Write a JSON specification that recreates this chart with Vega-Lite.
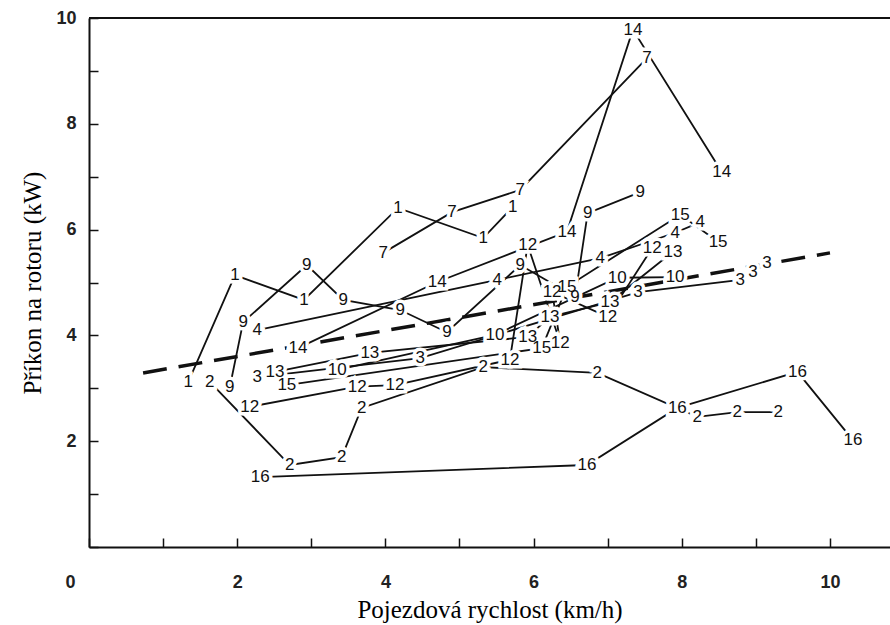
{
  "$schema": "https://vega.github.io/schema/vega-lite/v6.json",
  "width": 801,
  "height": 529,
  "autosize": "none",
  "padding": {"left": 89, "top": 18, "right": 0, "bottom": 78},
  "background": "white",
  "config": {"view": {"stroke": null}},
  "datasets": {
    "pts": [
      {"s":"1","i":1,"x":1.34,"y":3.12},{"s":"1","i":2,"x":1.97,"y":5.14},{"s":"1","i":3,"x":2.90,"y":4.67},{"s":"1","i":4,"x":4.17,"y":6.41},{"s":"1","i":5,"x":5.32,"y":5.84},{"s":"1","i":6,"x":5.72,"y":6.43},
      {"s":"7","i":1,"x":3.97,"y":5.56},{"s":"7","i":2,"x":4.90,"y":6.33},{"s":"7","i":3,"x":5.82,"y":6.75},{"s":"7","i":4,"x":7.53,"y":9.24},
      {"s":"9","i":1,"x":1.90,"y":3.02},{"s":"9","i":2,"x":2.08,"y":4.25},{"s":"9","i":3,"x":2.94,"y":5.33},{"s":"9","i":4,"x":3.43,"y":4.67},{"s":"9","i":5,"x":4.20,"y":4.48},{"s":"9","i":6,"x":4.83,"y":4.06},{"s":"9","i":7,"x":5.82,"y":5.33},{"s":"9","i":8,"x":6.56,"y":4.73},{"s":"9","i":9,"x":6.73,"y":6.31},{"s":"9","i":10,"x":7.44,"y":6.71},
      {"s":"4","i":1,"x":2.27,"y":4.10},{"s":"4","i":2,"x":5.51,"y":5.05},{"s":"4","i":3,"x":6.90,"y":5.46},{"s":"4","i":4,"x":7.91,"y":5.94},{"s":"4","i":5,"x":8.25,"y":6.14},
      {"s":"14","i":1,"x":2.82,"y":3.76},{"s":"14","i":2,"x":4.70,"y":5.01},{"s":"14","i":3,"x":6.45,"y":5.96},{"s":"14","i":4,"x":7.34,"y":9.78},{"s":"14","i":5,"x":8.54,"y":7.09},
      {"s":"12","i":1,"x":2.17,"y":2.65},{"s":"12","i":2,"x":3.62,"y":3.03},{"s":"12","i":3,"x":4.13,"y":3.06},{"s":"12","i":4,"x":5.68,"y":3.54},{"s":"12","i":5,"x":5.92,"y":5.71},{"s":"12","i":6,"x":6.36,"y":3.86},{"s":"12","i":7,"x":6.25,"y":4.82},{"s":"12","i":8,"x":7.00,"y":4.35},{"s":"12","i":9,"x":7.60,"y":5.65},
      {"s":"2","i":1,"x":1.63,"y":3.12},{"s":"2","i":2,"x":2.71,"y":1.55},{"s":"2","i":3,"x":3.41,"y":1.70},{"s":"2","i":4,"x":3.68,"y":2.63},{"s":"2","i":5,"x":5.32,"y":3.40},{"s":"2","i":6,"x":6.86,"y":3.29},{"s":"2","i":7,"x":8.21,"y":2.46},{"s":"2","i":8,"x":8.75,"y":2.55},{"s":"2","i":9,"x":9.30,"y":2.55},
      {"s":"16","i":1,"x":2.31,"y":1.32},{"s":"16","i":2,"x":6.72,"y":1.55},{"s":"16","i":3,"x":7.94,"y":2.63},{"s":"16","i":4,"x":9.56,"y":3.31},{"s":"16","i":5,"x":10.31,"y":2.02},
      {"s":"3","i":1,"x":2.27,"y":3.21},{"s":"3","i":2,"x":4.47,"y":3.57},{"s":"3","i":3,"x":7.41,"y":4.82},{"s":"3","i":4,"x":8.79,"y":5.05},{"s":"3","i":5,"x":8.96,"y":5.20},{"s":"3","i":6,"x":9.15,"y":5.37},
      {"s":"13","i":1,"x":2.51,"y":3.31},{"s":"13","i":2,"x":3.79,"y":3.67},{"s":"13","i":3,"x":5.92,"y":3.97},{"s":"13","i":4,"x":6.22,"y":4.35},{"s":"13","i":5,"x":7.03,"y":4.63},{"s":"13","i":6,"x":7.88,"y":5.58},
      {"s":"10","i":1,"x":3.35,"y":3.35},{"s":"10","i":2,"x":5.48,"y":4.01},{"s":"10","i":3,"x":7.13,"y":5.09},{"s":"10","i":4,"x":7.91,"y":5.10},
      {"s":"15","i":1,"x":2.67,"y":3.06},{"s":"15","i":2,"x":6.11,"y":3.76},{"s":"15","i":3,"x":6.45,"y":4.92},{"s":"15","i":4,"x":7.98,"y":6.28},{"s":"15","i":5,"x":8.49,"y":5.77}
    ],
    "trend": [{"x":0.73,"y":3.29},{"x":10.0,"y":5.56}]
  },
  "layer": [
    {
      "data": {"name": "trend"},
      "mark": {"type": "line", "strokeDash": [24, 12], "strokeWidth": 3.5, "color": "#111"},
      "encoding": {
        "x": {"field": "x", "type": "quantitative", "scale": {"domain": [0, 10.81], "nice": false, "zero": false},
          "axis": {"title": "Pojezdová rychlost (km/h)", "values": [0,1,2,3,4,5,6,7,8,9,10], "format": "d",
            "labelExpr": "datum.value % 2 == 0 ? datum.label : ''",
            "grid": false, "tickSize": -9, "tickWidth": 1.5, "tickColor": "#111",
            "domainColor": "#111", "domainWidth": 2, "labelFlush": false,
            "labelFont": "Liberation Sans", "labelFontSize": 18, "labelFontWeight": "bold", "labelColor": "#222",
            "labelPadding": 35,
            "labelOffset": {"condition": {"test": "datum.value == 0", "value": -19}, "value": 0},
            "titleFont": "Liberation Serif", "titleFontSize": 25, "titleFontWeight": "normal", "titleColor": "#000", "titlePadding": 6}},
        "y": {"field": "y", "type": "quantitative", "scale": {"domain": [0, 10], "nice": false, "zero": false},
          "axis": {"title": "Příkon na rotoru (kW)", "values": [0,1,2,3,4,5,6,7,8,9,10], "format": "d",
            "labelExpr": "datum.value % 2 == 0 && datum.value > 0 ? datum.label : ''",
            "grid": false, "tickSize": -9, "tickWidth": 1.5, "tickColor": "#111",
            "domainColor": "#111", "domainWidth": 2, "labelFlush": false,
            "labelFont": "Liberation Sans", "labelFontSize": 18, "labelFontWeight": "bold", "labelColor": "#222",
            "labelPadding": 22,
            "titleFont": "Liberation Serif", "titleFontSize": 25, "titleFontWeight": "normal", "titleColor": "#000", "titlePadding": 10}}
      }
    },
    {
      "data": {"name": "pts"},
      "mark": {"type": "line", "strokeWidth": 1.8, "color": "#111"},
      "encoding": {
        "x": {"field": "x", "type": "quantitative"},
        "y": {"field": "y", "type": "quantitative"},
        "detail": {"field": "s"},
        "order": {"field": "i"}
      }
    },
    {
      "data": {"name": "pts"},
      "mark": {"type": "text", "fill": "white", "stroke": "white", "strokeWidth": 7, "font": "Liberation Sans", "fontSize": 17},
      "encoding": {
        "x": {"field": "x", "type": "quantitative"},
        "y": {"field": "y", "type": "quantitative"},
        "text": {"field": "s"}
      }
    },
    {
      "data": {"name": "pts"},
      "mark": {"type": "text", "fill": "#111", "font": "Liberation Sans", "fontSize": 17},
      "encoding": {
        "x": {"field": "x", "type": "quantitative"},
        "y": {"field": "y", "type": "quantitative"},
        "text": {"field": "s"}
      }
    },
    {
      "data": {"values": [{}]},
      "mark": {"type": "rule", "strokeWidth": 2, "color": "#111"},
      "encoding": {"y": {"datum": 10}}
    }
  ]
}
